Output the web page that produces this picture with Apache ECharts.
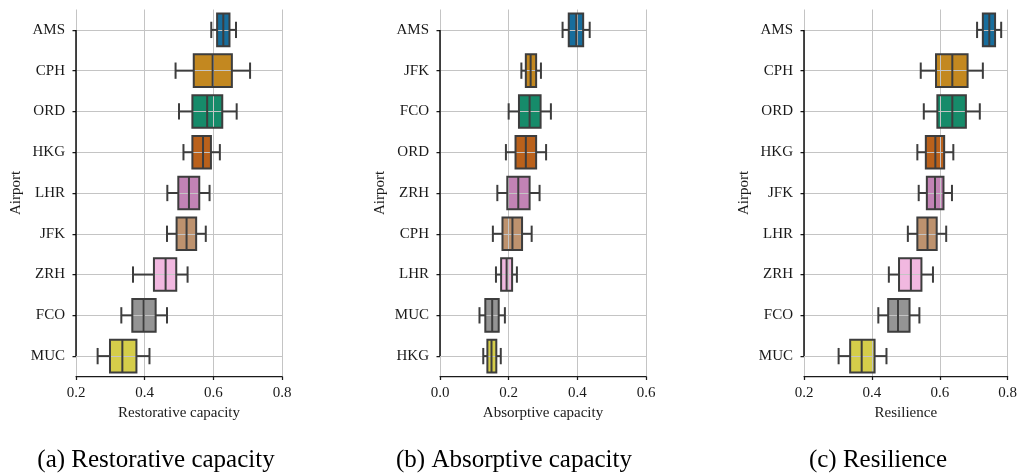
<!DOCTYPE html>
<html>
<head>
<meta charset="utf-8">
<script src="https://cdn.jsdelivr.net/npm/echarts@6/dist/echarts.min.js"></script>
<style>
  html, body { margin: 0; padding: 0; background: #fff; }
  #chart { width: 1020px; height: 473px; }
</style>
</head>
<body>
<div id="chart"></div>
<script>
// seaborn "colorblind" palette, desaturated like sns.boxplot does
const palette = ['#176d9c', '#c38820', '#168b6a', '#ba611b', '#c283b5', '#bd926e', '#f1b8e0', '#949494', '#d5cd4a']

// each stat row: [lower whisker, q1, median, q3, upper whisker]
const restAirports = ['AMS', 'CPH', 'ORD', 'HKG', 'LHR', 'JFK', 'ZRH', 'FCO', 'MUC']
const restStats = [
  [0.594, 0.611, 0.629, 0.647, 0.666],
  [0.490, 0.543, 0.598, 0.654, 0.707],
  [0.500, 0.539, 0.582, 0.626, 0.668],
  [0.513, 0.539, 0.570, 0.593, 0.619],
  [0.466, 0.498, 0.529, 0.559, 0.589],
  [0.465, 0.493, 0.522, 0.550, 0.578],
  [0.366, 0.427, 0.461, 0.492, 0.525],
  [0.332, 0.364, 0.397, 0.432, 0.465],
  [0.263, 0.299, 0.335, 0.376, 0.414]
]

const absAirports = ['AMS', 'JFK', 'FCO', 'ORD', 'ZRH', 'CPH', 'LHR', 'MUC', 'HKG']
const absStats = [
  [0.357, 0.375, 0.397, 0.417, 0.436],
  [0.237, 0.250, 0.264, 0.280, 0.294],
  [0.200, 0.230, 0.261, 0.293, 0.323],
  [0.192, 0.220, 0.250, 0.280, 0.309],
  [0.167, 0.196, 0.228, 0.261, 0.290],
  [0.154, 0.182, 0.211, 0.239, 0.267],
  [0.163, 0.178, 0.194, 0.210, 0.224],
  [0.115, 0.132, 0.152, 0.171, 0.189],
  [0.126, 0.138, 0.150, 0.164, 0.177]
]

const resAirports = ['AMS', 'CPH', 'ORD', 'HKG', 'JFK', 'LHR', 'ZRH', 'FCO', 'MUC']
const resStats = [
  [0.710, 0.727, 0.746, 0.763, 0.781],
  [0.544, 0.589, 0.637, 0.682, 0.727],
  [0.553, 0.593, 0.637, 0.677, 0.718],
  [0.534, 0.559, 0.587, 0.613, 0.640],
  [0.538, 0.562, 0.586, 0.611, 0.636],
  [0.506, 0.534, 0.564, 0.591, 0.619],
  [0.450, 0.480, 0.515, 0.546, 0.580],
  [0.419, 0.448, 0.477, 0.511, 0.540],
  [0.302, 0.336, 0.370, 0.408, 0.443]
]

const panels = [
  { airports: restAirports, stats: restStats, min: 0.2, max: 0.8, name: 'Restorative capacity', caption: '(a) Restorative capacity', left: 76, capX: 156 },
  { airports: absAirports, stats: absStats, min: 0.0, max: 0.6, name: 'Absorptive capacity', caption: '(b) Absorptive capacity', left: 440, capX: 514 },
  { airports: resAirports, stats: resStats, min: 0.2, max: 0.8, name: 'Resilience', caption: '(c) Resilience', left: 804, capX: 878 }
]

const font = 'Liberation Serif'
const ink = '#1a1a1a'
const edge = '#3d3d3d'
const gridColor = '#c4c4c4'
const boxFrac = 0.8

const boxFill = (params, api) => {
  const i = api.value(0)
  const a = api.coord([api.value(2), i])
  const b = api.coord([api.value(4), i])
  const h = api.size([0, 1])[1] * boxFrac
  return {
    type: 'rect',
    shape: { x: a[0], y: a[1] - h / 2, width: b[0] - a[0], height: h },
    style: { fill: palette[i] }
  }
}

const boxLines = (params, api) => {
  const i = api.value(0)
  const p = [1, 2, 3, 4, 5].map(d => api.coord([api.value(d), i]))
  const h = api.size([0, 1])[1] * boxFrac
  const cap = h / 4
  const y = p[0][1]
  const st = { stroke: edge, lineWidth: 2, fill: 'none' }
  return {
    type: 'group',
    children: [
      { type: 'line', shape: { x1: p[0][0], y1: y, x2: p[1][0], y2: y }, style: st },
      { type: 'line', shape: { x1: p[3][0], y1: y, x2: p[4][0], y2: y }, style: st },
      { type: 'line', shape: { x1: p[0][0], y1: y - cap, x2: p[0][0], y2: y + cap }, style: st },
      { type: 'line', shape: { x1: p[4][0], y1: y - cap, x2: p[4][0], y2: y + cap }, style: st },
      { type: 'rect', shape: { x: p[1][0], y: y - h / 2, width: p[3][0] - p[1][0], height: h }, style: st },
      { type: 'line', shape: { x1: p[2][0], y1: y - h / 2, x2: p[2][0], y2: y + h / 2 }, style: st }
    ]
  }
}

const grid = [], xAxis = [], yAxis = [], series = [], graphic = []
panels.forEach((pn, k) => {
  grid.push({ left: pn.left, width: 206, top: 9.5, height: 367 })
  xAxis.push({
    type: 'value', gridIndex: k, min: pn.min, max: pn.max, interval: 0.2, z: 2,
    name: pn.name, nameLocation: 'middle', nameGap: 27,
    nameTextStyle: { fontFamily: font, fontSize: 15, color: ink },
    axisLine: { show: true, lineStyle: { color: ink, width: 1.25 } },
    axisTick: { show: true, length: 3.5, lineStyle: { color: ink, width: 1.25 } },
    axisLabel: { fontFamily: font, fontSize: 15, color: ink, margin: 9, formatter: v => v.toFixed(1) },
    splitLine: { show: true, lineStyle: { color: gridColor, width: 1 } }
  })
  yAxis.push({
    type: 'category', gridIndex: k, data: pn.airports, inverse: true, z: 2,
    name: 'Airport', nameLocation: 'middle', nameGap: 52,
    nameTextStyle: { fontFamily: font, fontSize: 15, color: ink },
    axisLine: { show: false },
    axisTick: { show: true, alignWithLabel: true, length: 3.5, lineStyle: { color: ink, width: 1.25 } },
    axisLabel: { fontFamily: font, fontSize: 15, color: ink, margin: 11 },
    splitLine: { show: false }
  })
  const data = pn.stats.map((s, i) => [i, ...s])
  series.push({
    type: 'custom', xAxisIndex: k, yAxisIndex: k, z: 1,
    encode: { x: [1, 2, 3, 4, 5], y: 0 },
    renderItem: boxFill, data
  })
  // trimmed left spine (first to last category) + horizontal grid through category centres
  series.push({
    type: 'line', xAxisIndex: k, yAxisIndex: k, z: 4, silent: true,
    symbol: 'none', lineStyle: { color: '#000', width: 1.4 },
    data: [[pn.min, pn.airports[0]], [pn.min, pn.airports[pn.airports.length - 1]]],
    markLine: {
      z: 2, silent: true, symbol: 'none', label: { show: false },
      lineStyle: { color: gridColor, width: 1, type: 'solid' },
      data: pn.airports.map(a => ({ yAxis: a }))
    }
  })
  series.push({
    type: 'custom', xAxisIndex: k, yAxisIndex: k, z: 3,
    encode: { x: [1, 2, 3, 4, 5], y: 0 },
    renderItem: boxLines, data
  })
  graphic.push({
    type: 'text', x: pn.capX, y: 460,
    style: { text: pn.caption, textAlign: 'center', textVerticalAlign: 'middle', font: '25px "Liberation Serif"', fill: '#000' }
  })
})

const chart = echarts.init(document.getElementById('chart'))
chart.setOption({
  animation: false,
  backgroundColor: '#fff',
  grid, xAxis, yAxis, series, graphic
})
</script>
</body>
</html>
